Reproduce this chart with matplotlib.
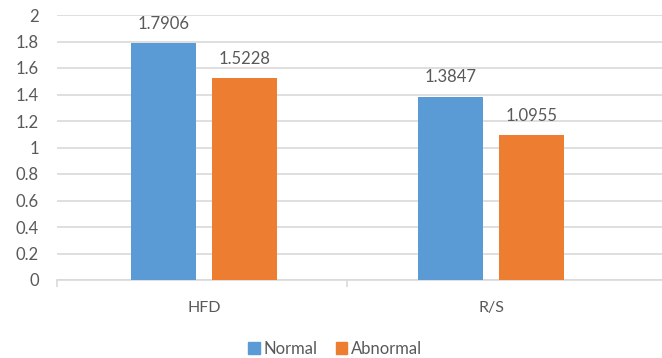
import matplotlib
matplotlib.use("Agg")
import matplotlib.pyplot as plt
from matplotlib.patches import Patch
import numpy as np

categories = ["HFD", "R/S"]
normal = [1.7906, 1.3847]
abnormal = [1.5228, 1.0955]
series_names = ["Normal", "Abnormal"]
yticks = [0, 0.2, 0.4, 0.6, 0.8, 1, 1.2, 1.4, 1.6, 1.8, 2]
ytick_labels = ["0", "0.2", "0.4", "0.6", "0.8", "1", "1.2", "1.4", "1.6", "1.8", "2"]

blue = "#5B9BD5"
orange = "#ED7D31"
txt = "#595959"
grid = "#D9D9D9"

plt.rcParams['font.family'] = ['Lato', 'DejaVu Sans']

W, H = 662, 358
fig = plt.figure(figsize=(W/100, H/100), dpi=100)
ax = fig.add_axes([57/W, (H-280)/H, (W-57)/W, 265/H])

x = np.arange(len(categories))
bw = 0.226
off = 0.142
b1 = ax.bar(x - off, normal, bw, color=blue, zorder=3)
b2 = ax.bar(x + off, abnormal, bw, color=orange, zorder=3)
for bars, vals in ((b1, normal), (b2, abnormal)):
    for r, v in zip(bars, vals):
        ax.annotate(f"{v:.4f}", (r.get_x() + r.get_width()/2, v),
                    xytext=(0, 8), textcoords="offset points",
                    ha="center", va="bottom", fontsize=12, color=txt)

ax.set_xlim(-0.512, 1.596)
ax.set_ylim(0, 2)
ax.set_yticks(yticks)
ax.set_yticklabels(ytick_labels)
ax.yaxis.grid(True, color=grid, linewidth=1.2, zorder=0)
ax.set_axisbelow(True)
for s in ["top", "right", "left"]:
    ax.spines[s].set_visible(False)
ax.spines["bottom"].set_color(grid)
ax.spines["bottom"].set_linewidth(1.2)
ax.tick_params(axis="y", length=0, labelsize=12, labelcolor=txt, pad=13)
ax.set_xticks(x)
ax.set_xticklabels(categories)
ax.tick_params(axis="x", length=0, labelsize=11.5, labelcolor=txt, pad=15)
ax.set_xticks([-0.512, 0.5], minor=True)
ax.tick_params(axis="x", which="minor", length=5, color=grid, width=1.2)

handles = [Patch(color=blue), Patch(color=orange)]
fig.legend(handles, series_names, loc="center", bbox_to_anchor=(335/W, (H-349)/H),
           ncol=2, frameon=False, fontsize=12, labelcolor=txt,
           handlelength=0.7, handleheight=0.7, handletextpad=0.2, columnspacing=1.1)

fig.savefig("out.png", dpi=100)
